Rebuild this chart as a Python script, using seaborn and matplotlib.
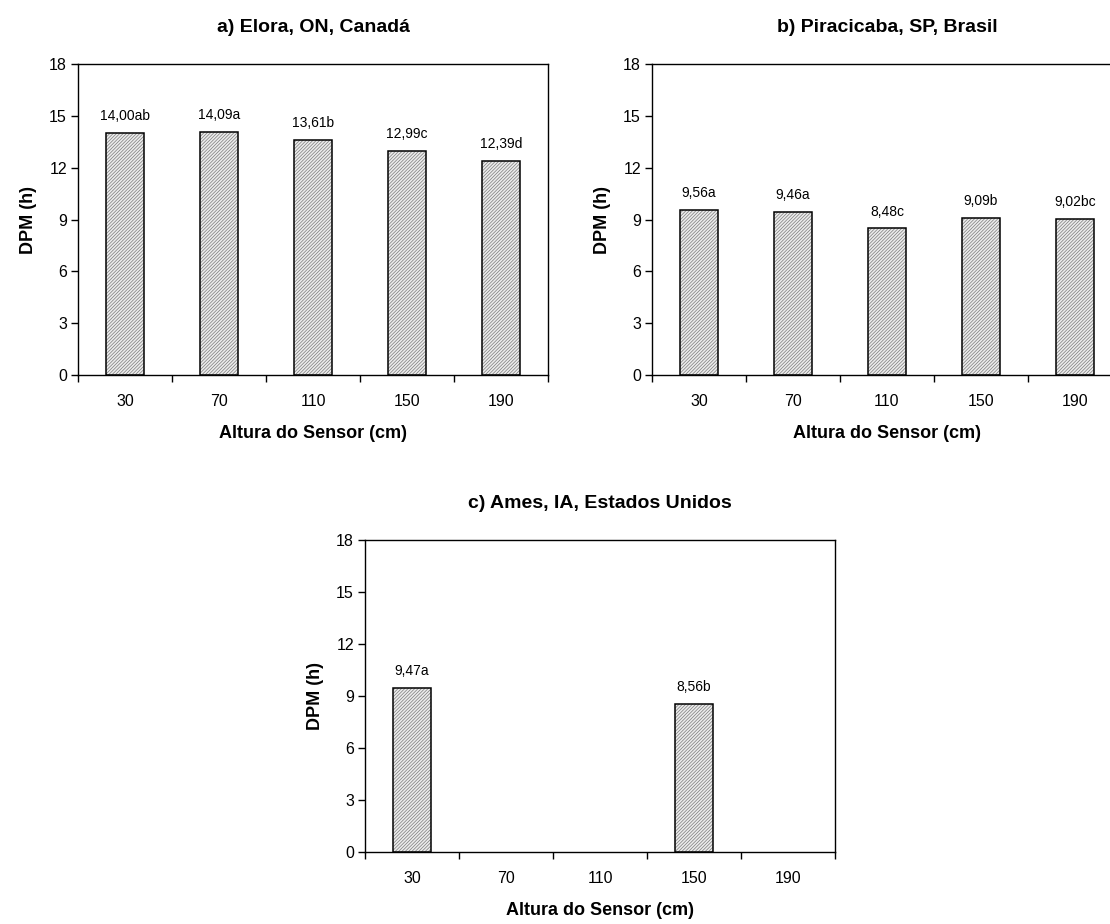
import numpy as np
import pandas as pd
import matplotlib
matplotlib.use("Agg")
import matplotlib.pyplot as plt
import seaborn as sns

sns.set_style("white")
plt.rcParams["font.family"] = ["Liberation Sans", "DejaVu Sans"]
plt.rcParams["text.color"] = "black"
plt.rcParams["axes.labelcolor"] = "black"
plt.rcParams["xtick.color"] = "black"
plt.rcParams["ytick.color"] = "black"
plt.rcParams["hatch.linewidth"] = 0.5

alturas = ["30", "70", "110", "150", "190"]

elora = [14.00, 14.09, 13.61, 12.99, 12.39]
elora_lab = ["14,00ab", "14,09a", "13,61b", "12,99c", "12,39d"]

piracicaba = [9.56, 9.46, 8.48, 9.09, 9.02]
piracicaba_lab = ["9,56a", "9,46a", "8,48c", "9,09b", "9,02bc"]

ames = [9.47, np.nan, np.nan, 8.56, np.nan]
ames_lab = ["9,47a", "", "", "8,56b", ""]

titulos = ["a) Elora, ON, Canadá", "b) Piracicaba, SP, Brasil",
           "c) Ames, IA, Estados Unidos"]

fig = plt.figure(figsize=(11.1, 9.24), dpi=100)
W, H = 1110, 924
boxes = [(78, 64, 548, 375), (652, 64, 1122, 375), (365, 540, 835, 852)]
axes = [fig.add_axes([l / W, 1 - b / H, (r - l) / W, (b - t) / H])
        for (l, t, r, b) in boxes]

series = [(elora, elora_lab), (piracicaba, piracicaba_lab), (ames, ames_lab)]

for ax, (vals, labs), titulo in zip(axes, series, titulos):
    df = pd.DataFrame({"altura": alturas, "dpm": vals})
    # hatched fill, then a black outline drawn on top
    sns.barplot(data=df, x="altura", y="dpm", order=alturas, ax=ax,
                color="#ececec", edgecolor="#7a7a7a", linewidth=0,
                width=0.4, hatch="//////////", errorbar=None)
    sns.barplot(data=df, x="altura", y="dpm", order=alturas, ax=ax,
                fill=False, edgecolor="black", linewidth=1.1,
                width=0.4, errorbar=None)
    for i, (v, t) in enumerate(zip(vals, labs)):
        if t and not np.isnan(v):
            ax.annotate(t, (i, v), xytext=(0, 7), textcoords="offset points",
                        ha="center", va="bottom", fontsize=10)
    ax.set_ylim(0, 18)
    ax.set_yticks(np.arange(0, 19, 3))
    ax.set_xlim(-0.5, 4.5)
    ax.set_xticks(range(5))
    ax.set_xticklabels(alturas)
    ax.set_xticks(np.arange(-0.5, 5, 1), minor=True)
    ax.tick_params(axis="x", which="major", length=0, pad=14, labelsize=11.5)
    ax.tick_params(axis="x", which="minor", length=5, width=1,
                   direction="out", bottom=True)
    ax.tick_params(axis="y", length=5, width=1, direction="out", left=True,
                   labelsize=11.5, pad=3)
    for s in ax.spines.values():
        s.set_visible(True)
        s.set_color("black")
        s.set_linewidth(1)
    ax.set_xlabel("Altura do Sensor (cm)", fontweight="bold", fontsize=13,
                  labelpad=11)
    ax.set_ylabel("DPM (h)", fontweight="bold", fontsize=13, labelpad=9)
    ax.set_title(titulo, fontweight="bold", fontsize=14, pad=23)

fig.savefig("out.png", dpi=100)
